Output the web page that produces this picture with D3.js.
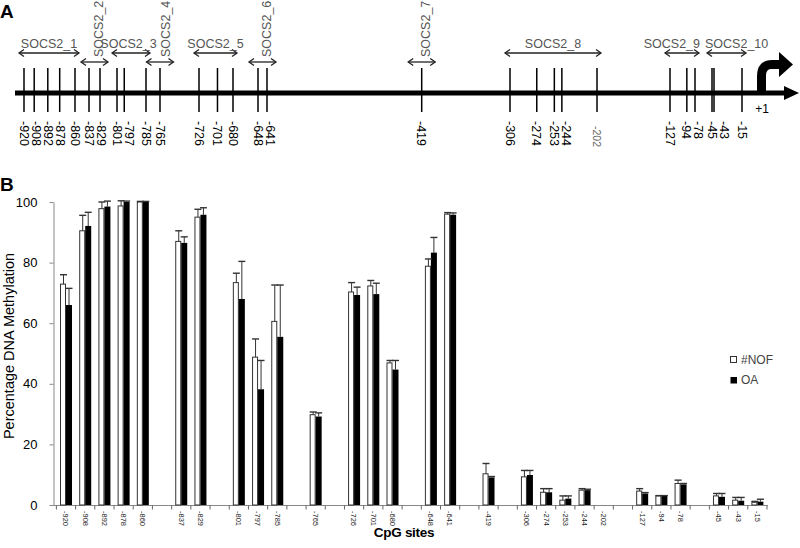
<!DOCTYPE html>
<html>
<head>
<meta charset="utf-8">
<script src="https://cdn.jsdelivr.net/npm/d3@7"></script>
<style>
  html, body { margin: 0; padding: 0; background: #fff; }
  svg { display: block; font-family: "Liberation Sans", Arial, sans-serif; }
</style>
</head>
<body>
<svg id="chart" width="800" height="548"></svg>
<script>
// ---------------- DATA ----------------
const cpgSites = [-920, -908, -892, -878, -860, -837, -829, -801, -797, -785, -765,
  -726, -701, -680, -648, -641, -419, -306, -274, -253, -244, -202,
  -127, -94, -78, -45, -43, -15];
const ampliconNames = ["SOCS2_1", "SOCS2_2", "SOCS2_3", "SOCS2_4", "SOCS2_5",
  "SOCS2_6", "SOCS2_7", "SOCS2_8", "SOCS2_9", "SOCS2_10"];
const ampliconSizes = [5, 2, 3, 1, 3, 2, 1, 5, 3, 3];
const verticalLabelAmplicons = ["SOCS2_2", "SOCS2_4", "SOCS2_6", "SOCS2_7"];

const nofValues = [72.9, 90.5, 97.8, 98.7, 100, 87, 95, 73.4, 48.8, 60.6, 29.8,
  70.3, 72.3, 46.9, 78.8, 96, 10.3, 9.3, 4.2, 1.6, 4.9, 0,
  4.6, 3.0, 7.1, 3.0, 1.6, 0.9];
const nofErrors = [3.1, 5.1, 2.2, 1.7, 0.2, 3.5, 2.6, 3.1, 6.0, 12.0, 0.9,
  3.1, 1.8, 0.8, 2.4, 0.5, 3.4, 2.1, 1.2, 1.4, 0.5, 0,
  0.8, 0.1, 1.1, 0.8, 0.9, 0.3];
const oaValues = [66, 92.1, 98.5, 100, 100, 86.5, 95.8, 68, 38.2, 55.5, 29.2,
  69.3, 69.6, 44.7, 83.3, 95.8, 9.1, 9.9, 4.2, 2.1, 4.9, 0,
  3.8, 3.0, 6.8, 2.7, 1.4, 1.1];
const oaErrors = [5.5, 4.5, 1.8, 0.3, 0.2, 2.0, 2.3, 12.4, 9.5, 17.1, 1.2,
  2.6, 3.6, 3.0, 5.0, 0.6, 0.3, 1.5, 1.2, 0.9, 0.3, 0,
  0.3, 0.1, 0.3, 1.1, 1.1, 0.8];
const seriesNames = ["#NOF", "OA"];
const yTicks = [0, 20, 40, 60, 80, 100];

// ---------------- SETUP ----------------
const svg = d3.select("#chart");
const FONT = "'Liberation Sans', Arial, sans-serif";

const ampliconOf = [];
ampliconSizes.forEach((n, a) => { for (let k = 0; k < n; k++) ampliconOf.push(a); });

// ---------------- PANEL A ----------------
// schematic (not to scale) position along the promoter
const schematicX = d3.scaleLinear()
  .domain([-920, -860, -837, -829, -801, -785, -765, -726, -680, -648, -641, -419, -306, -202, -127, -78, -45, -15, 1])
  .range([24, 75, 89, 100, 117, 146, 160, 199, 233, 258, 267, 421.7, 510, 597, 670, 695, 712, 742, 758]);

const gA = svg.append("g");
const lineY = 93;

gA.append("text").attr("x", 0).attr("y", 18)
  .attr("font-size", 19).attr("font-weight", "bold").text("A");

gA.append("line").attr("x1", 15).attr("x2", 788).attr("y1", lineY).attr("y2", lineY)
  .attr("stroke", "#000").attr("stroke-width", 5);
gA.append("path")
  .attr("d", `M784,${lineY - 7} L799,${lineY} L784,${lineY + 7} Z`).attr("fill", "#000");

// transcription start bent arrow
const tss = schematicX(1);
gA.append("path")
  .attr("d", `M${tss + 3.5},${lineY} V76 Q${tss + 3.5},64.5 ${tss + 14},64.5 H${tss + 22}`)
  .attr("fill", "none").attr("stroke", "#000").attr("stroke-width", 9);
gA.append("path")
  .attr("d", `M${tss + 21},52 L${tss + 35},64.5 L${tss + 21},77 Z`).attr("fill", "#000");
gA.append("text").attr("x", tss + 4).attr("y", 113).attr("text-anchor", "middle")
  .attr("font-size", 12).attr("fill", "#000").text("+1");

// CpG ticks
gA.selectAll("line.cpg").data(cpgSites).join("line")
  .attr("class", "cpg")
  .attr("x1", d => schematicX(d)).attr("x2", d => schematicX(d))
  .attr("y1", 68).attr("y2", 112)
  .attr("stroke", "#000").attr("stroke-width", 1.5);

// CpG labels with simple collision avoidance
let prevX = -Infinity;
const labelX = cpgSites.map(d => {
  const x = Math.max(schematicX(d), prevX + 12);
  prevX = x;
  return x;
});
gA.selectAll("text.cpg").data(cpgSites).join("text")
  .attr("class", "cpg")
  .attr("transform", (d, i) => `translate(${labelX[i]},${d === -202 ? 126 : 121}) rotate(90)`)
  .attr("dy", "0.35em")
  .attr("font-size", d => d === -202 ? 10.5 : 12.5)
  .attr("fill", d => d === -202 ? "#666" : "#000")
  .text(d => d);

// amplicon arrows + labels
const ampl = ampliconNames.map((name, a) => {
  const sites = cpgSites.filter((s, i) => ampliconOf[i] === a);
  let x1 = schematicX(sites[0]), x2 = schematicX(sites[sites.length - 1]);
  const vertical = verticalLabelAmplicons.includes(name);
  if (x2 - x1 < 20) { const m = (x1 + x2) / 2; x1 = m - 13.5; x2 = m + 13.5; }
  else { x1 -= 5; x2 += 4; }
  return { name, x1, x2, vertical };
});
const anchorFor = { "SOCS2_9": "end", "SOCS2_10": "start" };
const labelNudge = { "SOCS2_3": -2.5, "SOCS2_4": 2 };

ampl.forEach(d => {
  const y = d.vertical ? 62 : 53;
  const nudge = labelNudge[d.name] || 0;
  const g = gA.append("g").attr("stroke", "#222").attr("stroke-width", 1.3).attr("fill", "none");
  g.append("line").attr("x1", d.x1).attr("x2", d.x2).attr("y1", y).attr("y2", y);
  g.append("path").attr("d", `M${d.x1 + 5},${y - 3.5} L${d.x1},${y} L${d.x1 + 5},${y + 3.5}`);
  g.append("path").attr("d", `M${d.x2 - 5},${y - 3.5} L${d.x2},${y} L${d.x2 - 5},${y + 3.5}`);
  if (d.vertical) {
    gA.append("text")
      .attr("transform", `translate(${(d.x1 + d.x2) / 2 + 4 + nudge},57) rotate(-90)`)
      .attr("dy", "0.35em").attr("font-size", 12.5).attr("fill", "#555")
      .text(d.name);
  } else {
    const anc = anchorFor[d.name] || "middle";
    const tx = anc === "end" ? d.x2 + 1 : anc === "start" ? d.x1 - 2 : (d.x1 + d.x2) / 2 + nudge;
    gA.append("text").attr("x", tx).attr("y", 48).attr("text-anchor", anc)
      .attr("font-size", 12.5).attr("fill", "#555").text(d.name);
  }
});

// ---------------- PANEL B ----------------
svg.append("text").attr("x", 0).attr("y", 191)
  .attr("font-size", 19).attr("font-weight", "bold").text("B");

// slot sequence: sites with one empty slot between amplicons
const slots = [];
cpgSites.forEach((s, i) => {
  if (i > 0 && ampliconOf[i] !== ampliconOf[i - 1]) slots.push(null);
  slots.push(i);
});

const x = d3.scaleBand().domain(d3.range(slots.length)).range([56.4, 767]).padding(0);
const y = d3.scaleLinear().domain([0, 100]).range([505, 202]);
const bw = x.bandwidth();
const barW = 6;

const gB = svg.append("g");

const yAxis = gB.append("g").attr("transform", "translate(53.5,0)")
  .call(d3.axisLeft(y).tickValues(yTicks).tickSize(4).tickSizeOuter(0).tickPadding(12));
yAxis.select(".domain").attr("stroke", "#888");
yAxis.selectAll(".tick line").attr("stroke", "#888");
yAxis.selectAll(".tick text").attr("font-size", 13).attr("font-family", FONT).attr("fill", "#000");

gB.append("line").attr("x1", 53).attr("x2", 768).attr("y1", 505.5).attr("y2", 505.5)
  .attr("stroke", "#888");
gB.selectAll("line.xt").data(d3.range(slots.length + 1)).join("line")
  .attr("class", "xt")
  .attr("x1", i => 56.4 + i * bw).attr("x2", i => 56.4 + i * bw)
  .attr("y1", 505.5).attr("y2", 509.5).attr("stroke", "#666");

const slotCenter = {};
slots.forEach((s, k) => { if (s !== null) slotCenter[s] = x(k) + bw / 2; });

const idx = d3.range(cpgSites.length);
gB.selectAll("rect.nof").data(idx).join("rect")
  .attr("class", "nof")
  .attr("x", i => slotCenter[i] - barW + 0.5).attr("width", barW - 1)
  .attr("y", i => y(nofValues[i])).attr("height", i => y(0) - y(nofValues[i]))
  .attr("fill", "#fff").attr("stroke", "#333").attr("stroke-width", 1);
gB.selectAll("rect.oa").data(idx).join("rect")
  .attr("class", "oa")
  .attr("x", i => slotCenter[i]).attr("width", barW)
  .attr("y", i => y(oaValues[i])).attr("height", i => y(0) - y(oaValues[i]))
  .attr("fill", "#000");

function errBars(vals, errs, offset) {
  const g = gB.append("g").attr("stroke", "#333").attr("stroke-width", 1);
  idx.filter(i => errs[i] > 0).forEach(i => {
    const cx = slotCenter[i] + offset;
    g.append("line").attr("x1", cx).attr("x2", cx)
      .attr("y1", y(vals[i])).attr("y2", y(vals[i] + errs[i]));
    g.append("line").attr("x1", cx - 3.5).attr("x2", cx + 3.5)
      .attr("y1", y(vals[i] + errs[i])).attr("y2", y(vals[i] + errs[i]))
      .attr("stroke-width", 1.4);
  });
}
errBars(nofValues, nofErrors, -barW / 2 + 0.5);
errBars(oaValues, oaErrors, barW / 2);

gB.selectAll("text.xl").data(idx).join("text")
  .attr("class", "xl")
  .attr("transform", i => `translate(${slotCenter[i]},511) rotate(90)`)
  .attr("dy", "0.35em").attr("font-size", 7.5).attr("fill", "#222")
  .text(i => cpgSites[i]);

svg.append("text").attr("x", 404).attr("y", 537).attr("text-anchor", "middle")
  .attr("font-size", 13.5).attr("font-weight", "bold").attr("letter-spacing", -0.3)
  .text("CpG sites");
svg.append("text").attr("transform", "translate(14,346) rotate(-90)")
  .attr("text-anchor", "middle").attr("font-size", 14.5).text("Percentage DNA Methylation");

const leg = svg.append("g");
leg.append("rect").attr("x", 730.5).attr("y", 356.5).attr("width", 6).attr("height", 6)
  .attr("fill", "#fff").attr("stroke", "#333");
leg.append("text").attr("x", 741).attr("y", 363.5).attr("font-size", 12).attr("fill", "#444").text(seriesNames[0]);
leg.append("rect").attr("x", 730.5).attr("y", 377).attr("width", 6.5).attr("height", 6.5)
  .attr("fill", "#000");
leg.append("text").attr("x", 741).attr("y", 384).attr("font-size", 12).attr("fill", "#444").text(seriesNames[1]);
</script>
</body>
</html>
